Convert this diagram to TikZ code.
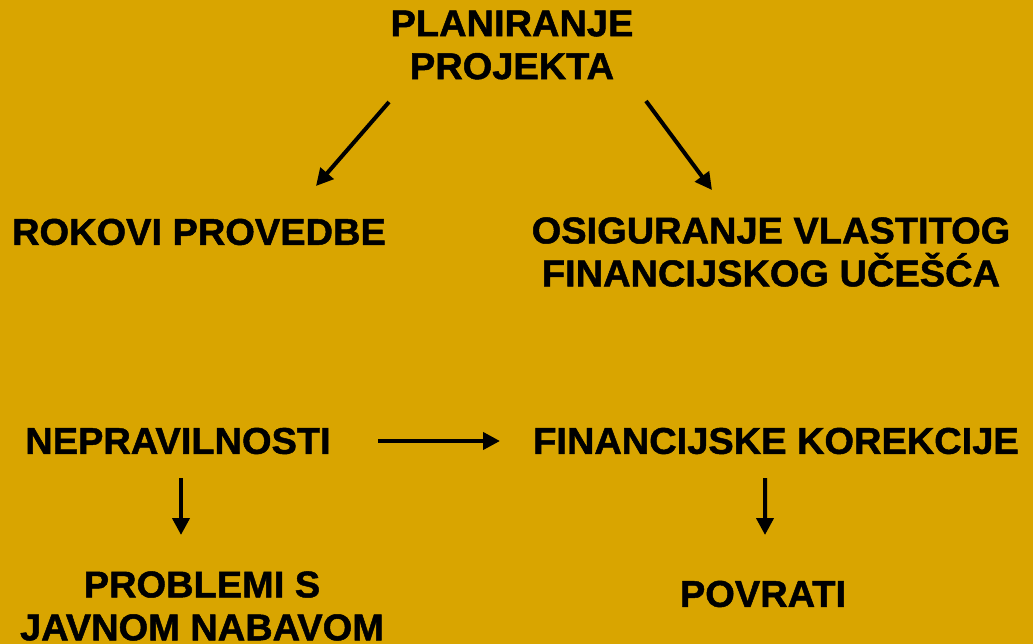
\documentclass[tikz,border=0pt]{standalone}
\usepackage{fontspec}
\setmainfont[BoldFeatures={FakeBold=1.3, FakeStretch=1.02}]{Liberation Sans}
\usepackage{tikz}
\usetikzlibrary{arrows.meta}
\definecolor{pjgold}{RGB}{217,165,0}

\tikzset{
  lbl/.style={font=\fontsize{10.6}{12.2}\selectfont\bfseries, align=center, inner sep=0pt},
  arr/.style={-{Triangle[length=1.7mm, width=1.7mm]}, line width=0.4mm, color=black}
}

\begin{document}
\begin{tikzpicture}
% Background
\fill[pjgold] (0,0) rectangle (10.33,-6.44);
\useasboundingbox (0,0) rectangle (10.33,-6.44);

% Boxes of text
\node[lbl] (plan) at (5.12,-0.45) {PLANIRANJE\\PROJEKTA};
\node[lbl] (rokovi) at (1.99,-2.32) {ROKOVI PROVEDBE};
\node[lbl] (osig) at (7.71,-2.52) {OSIGURANJE VLASTITOG\\FINANCIJSKOG UČEŠĆA};
\node[lbl] (neprav) at (1.78,-4.41) {NEPRAVILNOSTI};
\node[lbl] (korek) at (7.76,-4.41) {FINANCIJSKE KOREKCIJE};
\node[lbl] (javna) at (2.02,-6.06) {PROBLEMI S\\JAVNOM NABAVOM};
\node[lbl] (povrat) at (7.63,-5.94) {POVRATI};

% Arrows
\draw[arr] ([shift={(-1.23,-0.57)}]plan.center) -- ([shift={(1.17,0.46)}]rokovi.center);
\draw[arr] ([shift={(1.34,-0.56)}]plan.center) -- ([shift={(-0.59,0.62)}]osig.center);
\draw[arr] ([shift={(2.0,0)}]neprav.center) -- ([shift={(-2.76,0)}]korek.center);
\draw[arr] ([shift={(0.03,-0.37)}]neprav.center) -- ([shift={(-0.21,0.71)}]javna.center);
\draw[arr] ([shift={(-0.11,-0.37)}]korek.center) -- ([shift={(0.02,0.59)}]povrat.center);
\end{tikzpicture}
\end{document}
